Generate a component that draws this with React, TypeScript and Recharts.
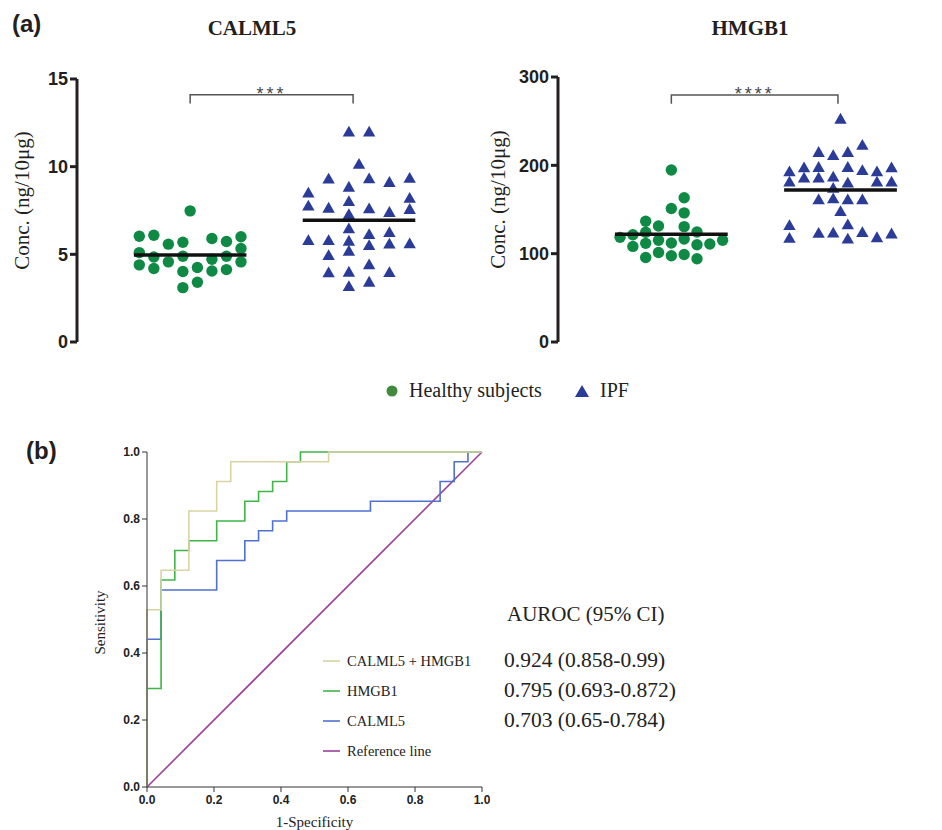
import React from 'react';
import { ScatterChart, Scatter, XAxis, YAxis, LineChart, Line } from 'recharts';

// (a) dot plots: values, slots = column offset (half-columns) inside each cloud
const calHealthy = [6.03, 6.09, 5.58, 5.69, 5.9, 5.73, 6.0, 7.48, 5.1, 4.85, 4.89, 4.89, 5.33, 4.4, 4.19, 4.57, 4.02, 4.25, 4.72, 4.05, 4.13, 4.57, 3.1, 3.41];
const calHealthySlot = [-7, -5, -3, -1, 3, 5, 7, 0, -7, -5, -1, 5, 7, -7, -5, -3, -1, 1, 3, 3, 5, 7, -1, 1];
const calIpf = [11.99, 11.99, 10.15, 9.31, 9.33, 9.12, 9.35, 8.85, 8.51, 8.22, 7.77, 7.65, 8.03, 7.61, 7.41, 7.58, 7.29, 6.47, 6.15, 6.26, 5.81, 5.81, 5.77, 5.52, 5.6, 5.62, 5.2, 4.95, 4.42, 3.96, 4.0, 3.98, 3.18, 3.43];
const calIpfSlot = [-1, 1, 0, -3, 1, 3, 5, -1, -5, 5, -5, -3, -1, 1, 3, 5, -1, -1, 1, 3, -5, -3, -1, 1, 3, 5, -1, -3, 1, -3, -1, 3, -1, 1];

const hmgHealthy = [194.8, 163.3, 151.2, 146.2, 136.7, 131.4, 130.6, 118.5, 121.5, 124.2, 115.1, 112.0, 116.6, 124.6, 115.1, 108.2, 111.7, 110.1, 110.9, 95.7, 101.4, 97.6, 99.1, 94.2];
const hmgHealthySlot = [0, 2, 0, 2, -4, -2, 2, -8, -6, -4, -2, 0, 2, 4, 8, -6, -4, 4, 6, -4, -2, 0, 2, 4];
const hmgIpf = [252.6, 223, 215, 211.5, 215, 197.5, 198, 198, 194.5, 193, 197.5, 193, 181.5, 186, 186, 187, 180.4, 181.5, 181.5, 174.3, 161.4, 162.5, 161.4, 161.4, 148, 132.2, 133, 123.4, 123.8, 124.2, 122.7, 117.7, 117, 118.5];
const hmgIpfSlot = [0, 3, -3, -1, 1, -5, -3, 1, 3, 5, 7, -7, -7, -5, -3, -1, 1, 5, 7, -1, -3, -1, 1, 3, 0, -7, 1, -3, -1, 3, 7, -7, 1, 5];

const groups = ['Healthy subjects', 'IPF'];
const calTicks = [0, 5, 10, 15];
const hmgTicks = [0, 100, 200, 300];

// (b) ROC curves, vertices of each staircase as [1-specificity, sensitivity]
const rocCombined = [[0, 0], [0, 0.529], [0.042, 0.529], [0.042, 0.647], [0.125, 0.647], [0.125, 0.824], [0.208, 0.824], [0.208, 0.912], [0.25, 0.912], [0.25, 0.971], [0.542, 0.971], [0.542, 1], [1, 1]];
const rocHmgb1 = [[0, 0], [0, 0.294], [0.042, 0.294], [0.042, 0.618], [0.083, 0.618], [0.083, 0.706], [0.125, 0.706], [0.125, 0.735], [0.208, 0.735], [0.208, 0.794], [0.292, 0.794], [0.292, 0.853], [0.333, 0.853], [0.333, 0.882], [0.375, 0.882], [0.375, 0.912], [0.417, 0.912], [0.417, 0.971], [0.458, 0.971], [0.458, 1], [1, 1]];
const rocCalml5 = [[0, 0], [0, 0.441], [0.042, 0.441], [0.042, 0.588], [0.208, 0.588], [0.208, 0.676], [0.292, 0.676], [0.292, 0.735], [0.333, 0.735], [0.333, 0.765], [0.375, 0.765], [0.375, 0.794], [0.417, 0.794], [0.417, 0.824], [0.667, 0.824], [0.667, 0.853], [0.875, 0.853], [0.875, 0.912], [0.917, 0.912], [0.917, 0.971], [0.958, 0.971], [0.958, 1], [1, 1]];
const rocReference = [[0, 0], [1, 1]];
const rocNames = ['CALML5 + HMGB1', 'HMGB1', 'CALML5', 'Reference line'];
const aurocValues = ['0.924 (0.858-0.99)', '0.795 (0.693-0.872)', '0.703 (0.65-0.784)'];
const rocTicks = [0, 0.2, 0.4, 0.6, 0.8, 1];

const SERIF = '"Liberation Serif", "Times New Roman", serif';
const SANS = '"Liberation Sans", Arial, sans-serif';
const AXIS = '#231f20';
const GREEN = '#0f8a44';
const BLUE = '#2a3b98';
const ROC_COLORS = ['#d9d3a3', '#3fb548', '#5070d2', '#9b3f9e'];

const toPoints = (vals: number[], slots: number[], center: number, step: number) =>
  vals.map((v, i) => ({ x: center + slots[i] * step, y: v }));
const mean = (a: number[]) => a.reduce((s, v) => s + v, 0) / a.length;
const toXY = (pairs: number[][]) => pairs.map(([x, y]) => ({ x, y }));

const Dot = (p: any) => <circle cx={p.cx} cy={p.cy} r={5.7} fill={GREEN} />;
const Tri = (p: any) => (
  <polygon points={`${p.cx},${p.cy - 6} ${p.cx + 6.2},${p.cy + 4.8} ${p.cx - 6.2},${p.cy + 4.8}`} fill={BLUE} />
);
const Nothing = () => <g />;

interface PanelProps {
  left: number;
  width: number;
  axisW: number;
  top: number;
  right: number;
  xMax: number;
  yMax: number;
  ticks: number[];
  healthy: number[];
  healthySlot: number[];
  healthyStep: number;
  ipf: number[];
  ipfSlot: number[];
  ipfStep: number;
  bracket: number[];
  bracketEnd: number;
  stars: string;
}

const DotPanel: React.FC<PanelProps> = (p) => {
  const hPts = toPoints(p.healthy, p.healthySlot, 1, p.healthyStep);
  const iPts = toPoints(p.ipf, p.ipfSlot, 2, p.ipfStep);
  const mh = mean(p.healthy);
  const mi = mean(p.ipf);
  const [bLow, bHigh] = p.bracket;
  const bracketPts = [
    { x: 1, y: bLow },
    { x: 1, y: bHigh },
    { x: p.bracketEnd, y: bHigh },
    { x: p.bracketEnd, y: bLow },
  ];
  const starPt = [{ x: (1 + p.bracketEnd) / 2, y: bHigh }];

  return (
    <div style={{ position: 'absolute', left: p.left, top: 0 }}>
      <ScatterChart width={p.width} height={360} margin={{ top: p.top, right: p.right, bottom: 18, left: 0 }}>
        <XAxis
          type="number"
          dataKey="x"
          domain={[0.33, p.xMax]}
          allowDataOverflow
          tick={false}
          tickLine={false}
          height={0}
          axisLine={{ stroke: AXIS, strokeWidth: 3 }}
        />
        <YAxis
          type="number"
          dataKey="y"
          domain={[0, p.yMax]}
          ticks={p.ticks}
          width={p.axisW}
          tickSize={7}
          tickMargin={2}
          axisLine={{ stroke: AXIS, strokeWidth: 3 }}
          tickLine={{ stroke: AXIS, strokeWidth: 3 }}
          tick={{ fontSize: 18, fontWeight: 700, fill: AXIS, fontFamily: SANS }}
          label={{
            content: (lp: any) => {
              const vb = lp.viewBox || { x: 0, y: 0, width: 0, height: 0 };
              const cx = vb.x + 22 + (p.axisW - 77) * 0.5;
              const cy = vb.y + vb.height / 2 - 10;
              return (
                <text
                  x={cx}
                  y={cy}
                  transform={`rotate(-90, ${cx}, ${cy})`}
                  textAnchor="middle"
                  dominantBaseline="central"
                  fontFamily={SERIF}
                  fontSize={21}
                  fill={AXIS}
                >
                  Conc. (ng/10μg)
                </text>
              );
            },
          }}
        />
        <Scatter name={groups[0]} data={hPts} shape={Dot} isAnimationActive={false} />
        <Scatter name={groups[1]} data={iPts} shape={Tri} isAnimationActive={false} />
        <Scatter
          data={[{ x: 1 - 1 / 3, y: mh }, { x: 1 + 1 / 3, y: mh }]}
          line={{ stroke: '#111', strokeWidth: 3.5 }}
          shape={Nothing}
          isAnimationActive={false}
        />
        <Scatter
          data={[{ x: 2 - 1 / 3, y: mi }, { x: 2 + 1 / 3, y: mi }]}
          line={{ stroke: '#111', strokeWidth: 3.5 }}
          shape={Nothing}
          isAnimationActive={false}
        />
        <Scatter data={bracketPts} line={{ stroke: '#555', strokeWidth: 1.5 }} shape={Nothing} isAnimationActive={false} />
        <Scatter
          data={starPt}
          isAnimationActive={false}
          shape={(sp: any) => (
            <text x={sp.cx} y={sp.cy + 5} textAnchor="middle" fontFamily={SANS} fontSize={18} letterSpacing={3} fill="#444">
              {p.stars}
            </text>
          )}
        />
      </ScatterChart>
    </div>
  );
};

const RocPanel: React.FC = () => {
  const series = [rocReference, rocCalml5, rocHmgb1, rocCombined];
  const colors = [ROC_COLORS[3], ROC_COLORS[2], ROC_COLORS[1], ROC_COLORS[0]];
  const tickStyle = { fontSize: 12, fontWeight: 700, fill: '#222', fontFamily: SANS };
  return (
    <div style={{ position: 'absolute', left: 90, top: 440 }}>
      <LineChart width={400} height={390} margin={{ top: 12, right: 8, bottom: 0, left: 0 }}>
        <XAxis
          type="number"
          dataKey="x"
          domain={[0, 1]}
          ticks={rocTicks}
          tickFormatter={(v: number) => v.toFixed(1)}
          height={43}
          tickSize={5}
          tickMargin={3}
          tick={tickStyle}
          axisLine={{ stroke: '#333' }}
          tickLine={{ stroke: '#333' }}
          label={{
            content: (lp: any) => {
              const vb = lp.viewBox || { x: 0, y: 0, width: 0, height: 0 };
              return (
                <text x={vb.x + vb.width / 2} y={vb.y + 40} textAnchor="middle" fontFamily={SERIF} fontSize={15} fill="#222">
                  1-Specificity
                </text>
              );
            },
          }}
        />
        <YAxis
          type="number"
          dataKey="y"
          domain={[0, 1]}
          ticks={rocTicks}
          tickFormatter={(v: number) => v.toFixed(1)}
          width={57}
          tickSize={5}
          tickMargin={2}
          tick={tickStyle}
          axisLine={{ stroke: '#333' }}
          tickLine={{ stroke: '#333' }}
          label={{
            content: (lp: any) => {
              const vb = lp.viewBox || { x: 0, y: 0, width: 0, height: 0 };
              const cx = vb.x + 10;
              const cy = vb.y + vb.height / 2 + 3;
              return (
                <text
                  x={cx}
                  y={cy}
                  transform={`rotate(-90, ${cx}, ${cy})`}
                  textAnchor="middle"
                  dominantBaseline="central"
                  fontFamily={SERIF}
                  fontSize={15}
                  fill="#222"
                >
                  Sensitivity
                </text>
              );
            },
          }}
        />
        {series.map((s, i) => (
          <Line
            key={i}
            data={toXY(s)}
            dataKey="y"
            type="linear"
            stroke={colors[i]}
            strokeWidth={1.6}
            dot={false}
            activeDot={false}
            isAnimationActive={false}
          />
        ))}
      </LineChart>
    </div>
  );
};

export default function App() {
  const legendRows = [666, 696, 726, 756];
  return (
    <div style={{ position: 'absolute', left: 0, top: 0, width: 942, height: 830, background: '#fff', overflow: 'hidden' }}>
      <DotPanel
        left={0}
        width={480}
        axisW={77}
        top={79}
        right={7}
        xMax={2.675}
        yMax={15}
        ticks={calTicks}
        healthy={calHealthy}
        healthySlot={calHealthySlot}
        healthyStep={0.043}
        ipf={calIpf}
        ipfSlot={calIpfSlot}
        ipfStep={0.06}
        bracket={[13.6, 14.1]}
        bracketEnd={1.965}
        stars="***"
      />
      <DotPanel
        left={470}
        width={472}
        axisW={88}
        top={77}
        right={0}
        xMax={2.6}
        yMax={300}
        ticks={hmgTicks}
        healthy={hmgHealthy}
        healthySlot={hmgHealthySlot}
        healthyStep={0.0379}
        ipf={hmgIpf}
        ipfSlot={hmgIpfSlot}
        ipfStep={0.0431}
        bracket={[269.6, 279.5]}
        bracketEnd={1.985}
        stars="****"
      />
      <RocPanel />
      <svg width={942} height={830} style={{ position: 'absolute', left: 0, top: 0, pointerEvents: 'none' }}>
        <text x={12} y={32} fontFamily={SANS} fontWeight={700} fontSize={24} fill={AXIS}>(a)</text>
        <text x={252} y={35} textAnchor="middle" fontFamily={SERIF} fontWeight={700} fontSize={21} fill={AXIS}>CALML5</text>
        <text x={750} y={35} textAnchor="middle" fontFamily={SERIF} fontWeight={700} fontSize={21} fill={AXIS}>HMGB1</text>

        <circle cx={392} cy={391} r={5.5} fill="#3f8b3b" />
        <text x={409} y={397} fontFamily={SERIF} fontSize={20} fill={AXIS}>{groups[0]}</text>
        <polygon points="582,385 589,397 575,397" fill={BLUE} />
        <text x={600} y={397} fontFamily={SERIF} fontSize={20} fill={AXIS}>{groups[1]}</text>

        <text x={26} y={459} fontFamily={SANS} fontWeight={700} fontSize={24} fill={AXIS}>(b)</text>

        {rocNames.map((n, i) => (
          <g key={n}>
            <line x1={323} x2={340} y1={legendRows[i] - 5} y2={legendRows[i] - 5} stroke={ROC_COLORS[i]} strokeWidth={1.6} />
            <text x={347} y={legendRows[i]} fontFamily={SERIF} fontSize={14.5} fill="#222">{n}</text>
          </g>
        ))}
        <text x={507} y={621} fontFamily={SERIF} fontSize={21} fill="#222">AUROC (95% CI)</text>
        {aurocValues.map((v, i) => (
          <text key={v} x={504} y={legendRows[i] + 1} fontFamily={SERIF} fontSize={21.5} fill="#222">{v}</text>
        ))}
      </svg>
    </div>
  );
}
